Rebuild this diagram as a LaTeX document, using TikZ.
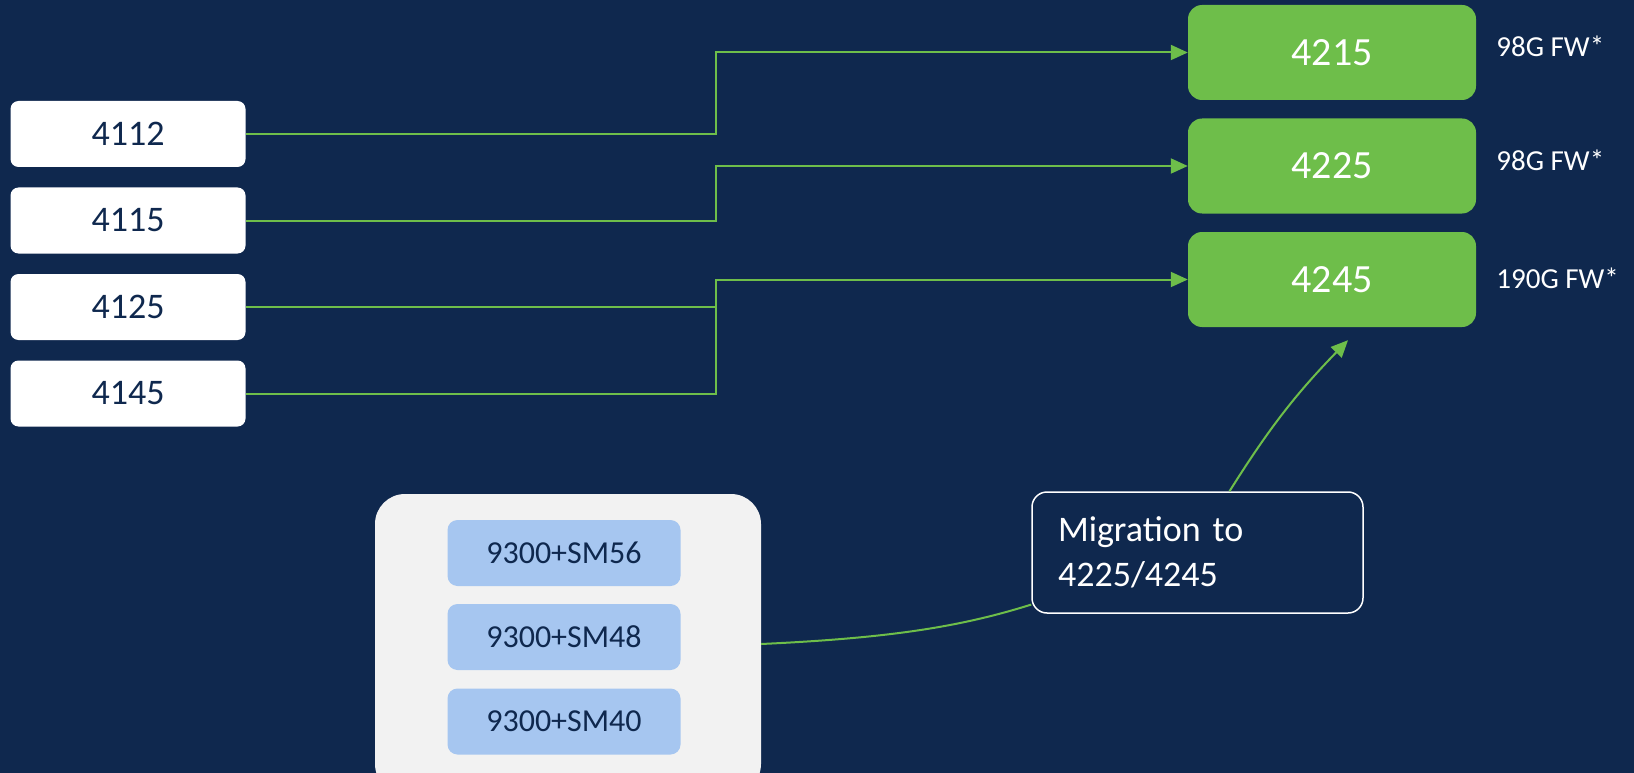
\documentclass[tikz,border=0pt]{standalone}
\usepackage{fontspec}
\setmainfont{Carlito}
\usepackage{tikz}
\usetikzlibrary{arrows.meta,positioning,calc}
\definecolor{navy}{RGB}{15,40,78}
\definecolor{leaf}{RGB}{110,190,74}
\definecolor{skyblue}{RGB}{166,198,240}
\definecolor{panel}{RGB}{242,242,242}

\begin{document}
\begin{tikzpicture}[x=1pt,y=-1pt,
    oldbox/.style={fill=white,rounded corners=8pt,minimum width=235pt,minimum height=66pt,
      text=navy,font=\fontsize{36}{43}\selectfont},
    newbox/.style={fill=leaf,rounded corners=14pt,minimum width=288pt,minimum height=95pt,
      text=white,font=\fontsize{40}{48}\selectfont},
    smbox/.style={fill=skyblue,rounded corners=10pt,minimum width=233pt,minimum height=66pt,
      text=navy,font=\fontsize{32}{38}\selectfont},
    fwlabel/.style={anchor=west,inner sep=0pt,text=white,font=\fontsize{29}{35}\selectfont},
    link/.style={leaf,line width=2pt},
    tip/.style={-{Triangle[length=17pt,width=15pt]}}]
    \fill[navy] (0,0) rectangle (1634,773);
    \useasboundingbox (0,0) rectangle (1634,773);

    % old models on the left
    \node[oldbox] (m4112) at (128,134) {4112};
    \node[oldbox] (m4115) at (128,220.5) {4115};
    \node[oldbox] (m4125) at (128,307) {4125};
    \node[oldbox] (m4145) at (128,393.5) {4145};

    % new models on the right
    \node[newbox] (m4215) at (1332,52.5) {4215};
    \node[newbox] (m4225) at (1332,166) {4225};
    \node[newbox] (m4245) at (1332,279.5) {4245};

    \node[fwlabel] (fw1) at ($(m4215.east)+(20,-6)$) {98G FW*};
    \node[fwlabel] (fw2) at ($(m4225.east)+(20,-6)$) {98G FW*};
    \node[fwlabel] (fw3) at ($(m4245.east)+(20,-1)$) {190G FW*};

    \coordinate (bus) at (716,0);
    \draw[link,tip] (m4112.east) -| (bus |- m4215.west) -- (m4215.west);
    \draw[link,tip] (m4115.east) -| (bus |- m4225.west) -- (m4225.west);
    \draw[link] (m4125.east) -- (bus |- m4125.east);
    \draw[link,tip] (m4145.east) -| (bus |- m4245.west) -- (m4245.west);

    % 9300 chassis
    \node[fill=panel,rounded corners=30pt,minimum width=386pt,minimum height=300pt] (farm) at (568,644) {};
    \node[smbox] (sm56) at (564,553) {9300+SM56};
    \node[smbox] (sm48) at (564,637) {9300+SM48};
    \node[smbox] (sm40) at (564,721.5) {9300+SM40};

    \node[draw=white,line width=1.5pt,rounded corners=15pt,minimum width=331pt,minimum height=121pt,
      text width=279pt,align=left,text=white,font=\fontsize{36}{45}\selectfont] (mig) at (1197.5,552.5)
      {Migration to\\4225/4245};

    \coordinate (migin) at ($(mig.west)!0.85!(mig.south west)$);
    \draw[link] (farm.east) .. controls +(130,-6) and +(-70,22) .. (migin);
    \coordinate (aim) at ($(m4245.south)+(16,13)$);
    \draw[link,tip] ($(mig.north)+(32,0)$) to[bend left=6] (aim);
\end{tikzpicture}
\end{document}
